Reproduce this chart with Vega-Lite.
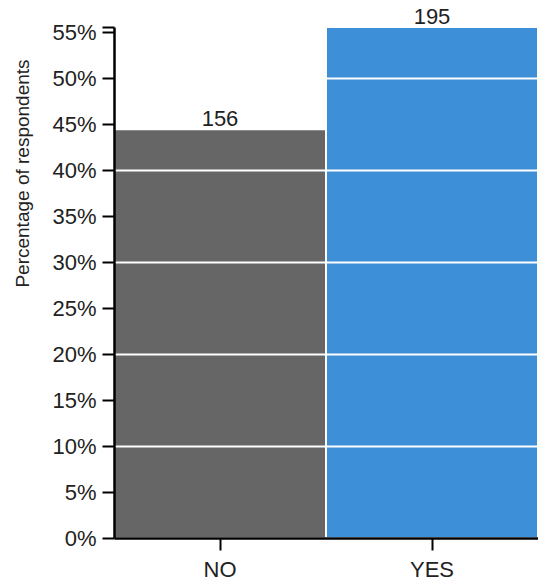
{
  "$schema": "https://vega.github.io/schema/vega-lite/v6.json",
  "width": 424,
  "height": 511,
  "autosize": {"type": "none"},
  "padding": {"left": 114, "top": 27, "right": 0, "bottom": 46},
  "background": "white",
  "config": {"view": {"stroke": null}, "font": "Liberation Sans"},
  "data": {
    "values": [
      {"answer": "NO", "count": 156, "pct": 0.4444},
      {"answer": "YES", "count": 195, "pct": 0.5556}
    ]
  },
  "encoding": {
    "x": {
      "field": "answer",
      "type": "nominal",
      "scale": {"paddingInner": 0, "paddingOuter": 0},
      "axis": {
        "title": null,
        "labelAngle": 0,
        "labelFontSize": 22,
        "labelColor": "#222222",
        "labelPadding": 9,
        "tickSize": 12,
        "tickWidth": 2,
        "tickColor": "black",
        "domainColor": "black",
        "domainWidth": 2.5,
        "zindex": 1
      }
    },
    "y": {
      "field": "pct",
      "type": "quantitative",
      "scale": {"domain": [0, 0.5556], "nice": false, "zero": true},
      "axis": {
        "title": "Percentage of respondents",
        "values": [0, 0.05, 0.1, 0.15, 0.2, 0.25, 0.3, 0.35, 0.4, 0.45, 0.5, 0.55, 0.5556],
        "labelExpr": "datum.value > 0.552 ? '' : format(datum.value, '.0%')",
        "labelFontSize": 22,
        "labelColor": "#222222",
        "labelPadding": 6,
        "tickSize": 12,
        "tickWidth": 2,
        "tickColor": "black",
        "domainColor": "black",
        "domainWidth": 2.5,
        "grid": true,
        "gridColor": "white",
        "gridWidth": 2,
        "gridOpacity": {"condition": {"test": "round(datum.value * 100) % 10 === 0 && datum.value > 0", "value": 1}, "value": 0},
        "zindex": 1,
        "titleFontSize": 19,
        "titleFontWeight": "normal",
        "titleColor": "#222222",
        "titleX": -92,
        "titleY": 146,
        "titleAlign": "center",
        "titleBaseline": "middle",
        "titleAngle": -90
      }
    }
  },
  "layer": [
    {
      "mark": {"type": "bar", "stroke": "white", "strokeWidth": 2},
      "encoding": {
        "color": {
          "field": "answer",
          "type": "nominal",
          "scale": {"domain": ["NO", "YES"], "range": ["#666666", "#3d8fd8"]},
          "legend": null
        }
      }
    },
    {
      "mark": {"type": "text", "baseline": "alphabetic", "dy": -3, "fontSize": 22, "color": "#222222"},
      "encoding": {"text": {"field": "count", "type": "quantitative"}}
    }
  ]
}
